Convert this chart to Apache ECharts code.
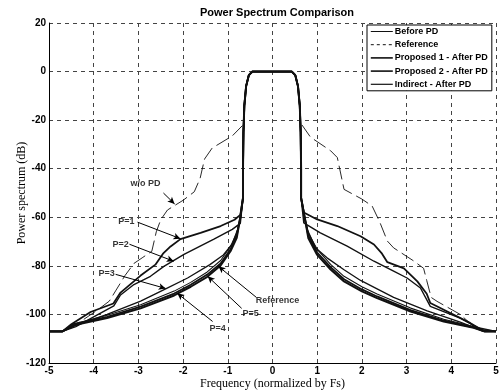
<!DOCTYPE html>
<html>
<head>
    <meta charset="utf-8">
    <title>Power Spectrum Comparison</title>
    <style>
        html, body { margin: 0; padding: 0; background: #fff; }
        #container { width: 501px; height: 392px; }
    </style>
</head>
<body>
<div id="container"></div>
<script src="https://cdn.jsdelivr.net/npm/echarts@6/dist/echarts.min.js"></script>
<script type="text/javascript">
    // axis ticks
    var xTicks = [-5, -4, -3, -2, -1, 0, 1, 2, 3, 4, 5];
    var yTicks = [-120, -100, -80, -60, -40, -20, 0, 20];

    // shared main lobe (frequency, dB)
    var mainLobe = [[-0.66, -52], [-0.66, -40], [-0.65, -25], [-0.63, -14], [-0.59, -6], [-0.53, -1.5], [-0.45, 0],
        [0.43, 0], [0.51, -1.5], [0.57, -6], [0.61, -14], [0.63, -25], [0.64, -40], [0.64, -52]];

    // w/o PD (before predistortion)
    var woPdL = [[-5, -107], [-4.7, -107], [-4.5, -105], [-4.3, -103], [-3.9, -98], [-3.65, -94.5], [-3.5, -90], [-3.3, -84],
        [-3.1, -79], [-2.9, -76.5], [-2.7, -74], [-2.6, -66], [-2.5, -61], [-2.35, -57], [-2.0, -53], [-1.75, -49.5],
        [-1.62, -44], [-1.52, -36], [-1.35, -31.5], [-0.9, -26.5], [-0.66, -22]];
    var woPdR = [[0.66, -22], [0.85, -27], [1.3, -32.6], [1.45, -35.4], [1.56, -45], [1.6, -48.5], [2.0, -52.5], [2.23, -55.4],
        [2.4, -62], [2.57, -69.8], [2.71, -72.6], [3.16, -78], [3.38, -81], [3.45, -86], [3.55, -93], [3.68, -94.6],
        [4.2, -100], [4.5, -105], [4.7, -107], [5, -107]];

    // P=1
    var p1L = [[-5, -107], [-4.7, -107], [-4.5, -104], [-4.07, -99], [-3.56, -95.5], [-3.4, -91], [-2.95, -84], [-2.62, -79.5],
        [-2.45, -75], [-2.28, -72], [-2.06, -69], [-1.61, -66.4], [-1.16, -63.6], [-0.85, -61], [-0.72, -59]];
    var p1R = [[0.7, -58], [1.0, -60.9], [1.45, -63.6], [1.97, -67.8], [2.27, -71.2], [2.45, -75], [2.57, -78.5], [2.94, -81],
        [3.24, -86.4], [3.45, -91.5], [3.53, -95.3], [3.91, -98.8], [4.43, -103.6], [4.7, -106.5], [5, -107]];

    // P=2
    var p2L = [[-5, -107], [-4.7, -107], [-4.4, -105], [-4.0, -101], [-3.55, -96.5], [-3.4, -92], [-3.1, -87.7], [-2.73, -84.3],
        [-2.43, -80.2], [-1.98, -75.3], [-1.31, -69], [-0.9, -65], [-0.72, -62.5]];
    var p2R = [[0.7, -62.3], [1.07, -66.4], [1.67, -71.9], [2.27, -78.1], [2.71, -82.2], [3.01, -85], [3.31, -89.1],
        [3.53, -96.7], [4.2, -101.5], [4.6, -105.5], [5, -107]];

    // P=3
    var p3L = [[-5, -107], [-4.7, -107], [-4.4, -104.5], [-3.7, -100], [-2.95, -94.5], [-2.39, -89.5], [-1.9, -85], [-1.4, -79.5],
        [-1.1, -75.5], [-0.9, -71], [-0.78, -65], [-0.72, -61]];
    var p3R = [[0.72, -61], [0.8, -66], [0.96, -72.5], [1.22, -76.7], [1.6, -81.6], [1.97, -86], [2.71, -93], [3.46, -98.5],
        [4.2, -103.2], [4.6, -106], [4.8, -107], [5, -107]];

    // P=4
    var p4L = [[-5, -107], [-4.7, -107], [-4.45, -104], [-3.7, -101], [-2.95, -96.8], [-2.2, -91.4], [-1.83, -87.8], [-1.46, -83.6],
        [-1.16, -79], [-0.94, -73.2], [-0.8, -67.5], [-0.72, -60]];
    var p4R = [[0.72, -60], [0.8, -67.5], [1.0, -74.5], [1.3, -80.5], [1.6, -85.5], [2.0, -89.7], [2.34, -92.6], [3.09, -98.2],
        [3.83, -102.5], [4.5, -105.3], [4.75, -107], [5, -107]];

    // P=5
    var p5L = [[-5, -107], [-4.7, -107], [-4.45, -104], [-3.7, -100.3], [-2.95, -96], [-2.2, -90.4], [-1.83, -86.8], [-1.46, -82.5],
        [-1.16, -77.8], [-0.94, -72], [-0.8, -66.5], [-0.72, -60]];
    var p5R = [[0.72, -60], [0.8, -66.5], [1.0, -73.2], [1.3, -79.4], [1.6, -84.3], [2.0, -88.6], [2.34, -91.6], [3.09, -97.4],
        [3.83, -102], [4.5, -105], [4.75, -107], [5, -107]];

    // Reference
    var refL = [[-5, -107], [-4.7, -107], [-4.45, -104.5], [-3.7, -101.5], [-2.95, -97.5], [-2.2, -92.2], [-1.83, -88.6], [-1.46, -84.5],
        [-1.16, -79.8], [-0.94, -74], [-0.8, -68.5], [-0.72, -60]];
    var refR = [[0.72, -60], [0.8, -68.5], [1.0, -75.5], [1.3, -81.5], [1.6, -86.4], [2.0, -90.5], [2.34, -93.3], [3.09, -98.8],
        [3.83, -102.9], [4.5, -105.5], [4.75, -107], [5, -107]];

    // annotations: text position and arrow (data coords)
    var notes = [
        {text: 'w/o PD', tx: -2.84, ty: -46.3, from: [-2.44, -50], to: [-2.19, -54.5]},
        {text: 'P=1', tx: -3.27, ty: -61.6, from: [-3.02, -62], to: [-2.06, -68.8]},
        {text: 'P=2', tx: -3.4, ty: -71.1, from: [-3.2, -71.1], to: [-2.21, -78.1]},
        {text: 'P=3', tx: -3.71, ty: -83.1, from: [-3.51, -83.5], to: [-2.39, -89.3]},
        {text: 'P=4', tx: -1.23, ty: -105.8, from: [-1.34, -102.9], to: [-2.13, -91.3]},
        {text: 'P=5', tx: -0.49, ty: -99.6, from: [-0.69, -97.5], to: [-1.45, -84.3]},
        {text: 'Reference', tx: 0.11, ty: -94.2, from: [-0.36, -93], to: [-1.21, -80.2]}
    ];

    var myChart = echarts.init(document.getElementById('container'));

    function curve(left, right) {
        return left.concat(mainLobe, right);
    }

    function lineSeries(name, data, width, type) {
        return {
            name: name,
            type: 'line',
            data: data,
            symbol: 'none',
            silent: true,
            itemStyle: {color: '#111'},
            lineStyle: {color: '#111', width: width, type: type || 'solid'},
            z: 3
        };
    }

    var labelFont = {fontFamily: 'Liberation Sans', fontWeight: 'bold', fontSize: 10, color: '#000'};

    var option = {
        animation: false,
        color: ['#111'],
        title: {
            text: 'Power Spectrum Comparison',
            left: 272, top: 2,
            textAlign: 'center',
            textStyle: {fontFamily: 'Liberation Sans', fontWeight: 'bold', fontSize: 11, color: '#000'}
        },
        legend: {
            orient: 'vertical',
            left: 367, top: 25,
            padding: [2, 4, 2, 3],
            itemWidth: 22, itemHeight: 8, itemGap: 4.2,
            backgroundColor: '#fff',
            borderColor: '#000', borderWidth: 1,
            itemStyle: {opacity: 0},
            textStyle: {fontFamily: 'Liberation Sans', fontWeight: 'bold', fontSize: 9, color: '#000', padding: [0, 0, 0, -3]},
            data: [
                {name: 'Before PD', lineStyle: {type: 'solid', width: 1, color: '#111'}},
                {name: 'Reference', lineStyle: {type: [3, 3], width: 1, color: '#111'}},
                {name: 'Proposed 1 - After PD', lineStyle: {width: 1.6, color: '#111'}},
                {name: 'Proposed 2 - After PD', lineStyle: {width: 1.6, color: '#111'}},
                {name: 'Indirect - After PD', lineStyle: {width: 1.2, color: '#111'}}
            ]
        },
        grid: {left: 49, right: 5, top: 23, bottom: 29, containLabel: false, outerBoundsMode: 'none'},
        xAxis: {
            type: 'value',
            min: xTicks[0], max: xTicks[xTicks.length - 1], interval: 1,
            name: 'Frequency (normalized by Fs)',
            nameLocation: 'middle', nameGap: 15, nameMoveOverlap: false,
            nameTextStyle: {fontFamily: 'Liberation Serif', fontSize: 12, color: '#000'},
            axisLine: {onZero: false, lineStyle: {color: '#000', width: 1}},
            axisTick: {show: false},
            axisLabel: Object.assign({margin: 3}, labelFont),
            splitLine: {show: true, lineStyle: {color: '#444', type: [4, 4], width: 1}}
        },
        yAxis: {
            type: 'value',
            min: yTicks[0], max: yTicks[yTicks.length - 1], interval: 20,
            name: 'Power spectrum (dB)',
            nameLocation: 'middle', nameGap: 21, nameMoveOverlap: false,
            nameTextStyle: {fontFamily: 'Liberation Serif', fontSize: 12, color: '#000'},
            axisLine: {onZero: false, lineStyle: {color: '#000', width: 1}},
            axisTick: {show: false},
            axisLabel: Object.assign({margin: 3}, labelFont),
            splitLine: {show: true, lineStyle: {color: '#444', type: [4, 4], width: 1}}
        },
        series: [
            lineSeries('Before PD', woPdL.concat([[null, null]], woPdR), 0.9, [14, 5]),
            lineSeries('Reference', curve(refL, refR), 2),
            lineSeries('Proposed 1 - After PD', curve(p1L, p1R), 1.8),
            lineSeries('Proposed 2 - After PD', curve(p2L, p2R), 1.4),
            lineSeries('Indirect - After PD', curve(p3L, p3R), 1.3),
            lineSeries('P=4', curve(p4L, p4R), 1.8),
            lineSeries('P=5', curve(p5L, p5R), 1.1),
            {
                name: 'notes',
                type: 'scatter',
                silent: true,
                symbolSize: 0,
                z: 5,
                data: notes.map(function (n) { return {value: [n.tx, n.ty], name: n.text}; }),
                label: {
                    show: true, position: 'inside', formatter: '{b}', fontSize: 9,
                    fontFamily: 'Liberation Sans', fontWeight: 'bold', color: '#000'
                },
                markLine: {
                    silent: true,
                    symbol: ['none', 'arrow'],
                    symbolSize: [5, 7],
                    label: {show: false},
                    lineStyle: {color: '#000', width: 1, type: 'solid'},
                    data: notes.map(function (n) { return [{coord: n.from}, {coord: n.to}]; })
                }
            }
        ]
    };

    myChart.setOption(option);
</script>
</body>
</html>
